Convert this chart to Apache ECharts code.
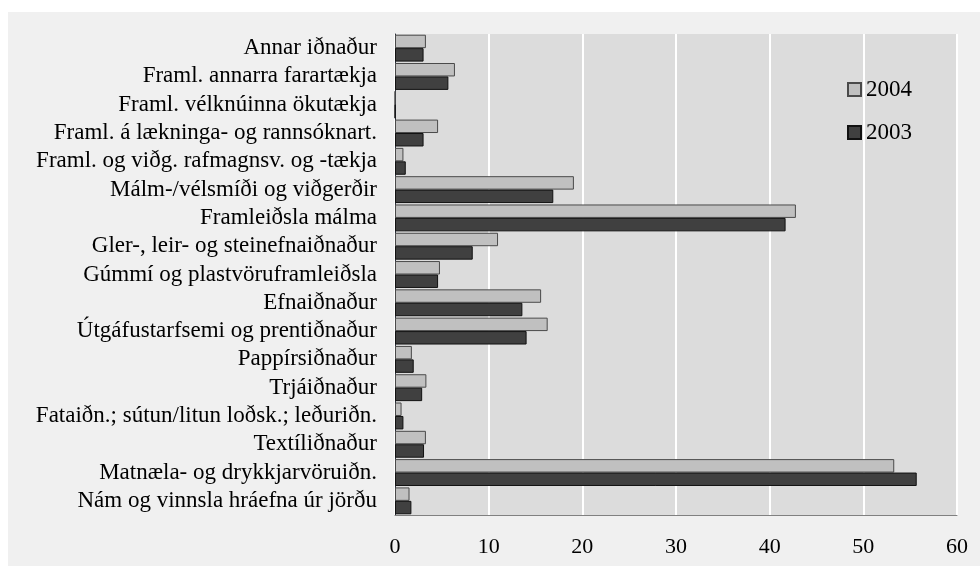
<!DOCTYPE html>
<html>
<head>
<meta charset="utf-8">
<script src="https://cdn.jsdelivr.net/npm/echarts@6/dist/echarts.min.js"></script>
<style>
  html, body { margin: 0; padding: 0; background: #ffffff; }
  #chart { position: absolute; left: 8px; top: 12px; width: 972px; height: 554px; background: #f0f0f0; }
</style>
</head>
<body>
<div id="chart"></div>
<script>
// categories, top to bottom
var categories = [
  "Annar iðnaður",
  "Framl. annarra farartækja",
  "Framl. vélknúinna ökutækja",
  "Framl. á lækninga- og rannsóknart.",
  "Framl. og viðg. rafmagnsv. og -tækja",
  "Málm-/vélsmíði og viðgerðir",
  "Framleiðsla málma",
  "Gler-, leir- og steinefnaiðnaður",
  "Gúmmí og plastvöruframleiðsla",
  "Efnaiðnaður",
  "Útgáfustarfsemi og prentiðnaður",
  "Pappírsiðnaður",
  "Trjáiðnaður",
  "Fataiðn.; sútun/litun loðsk.; leðuriðn.",
  "Textíliðnaður",
  "Matnæla- og drykkjarvöruiðn.",
  "Nám og vinnsla hráefna úr jörðu"
];
var values2004 = [3.3, 6.4, 0, 4.6, 0.9, 19.1, 42.8, 11.0, 4.8, 15.6, 16.3, 1.8, 3.35, 0.7, 3.3, 53.3, 1.55];
var values2003 = [3.05, 5.7, 0, 3.05, 1.15, 16.9, 41.7, 8.3, 4.6, 13.6, 14.05, 2.0, 2.9, 0.9, 3.1, 55.7, 1.75];
var xTicks = [0, 10, 20, 30, 40, 50, 60];

var font = "'Liberation Serif', 'Times New Roman', serif";
var chart = echarts.init(document.getElementById("chart"));

chart.setOption({
  animation: false,
  textStyle: { fontFamily: font },
  grid: {
    left: 387, top: 22, width: 562, height: 481,
    show: true, backgroundColor: "#dcdcdc", borderWidth: 0
  },
  legend: {
    orient: "vertical",
    left: 834, top: 61,
    itemGap: 20,
    itemWidth: 13, itemHeight: 13,
    icon: "rect",
    data: ["2004", "2003"],
    textStyle: { fontFamily: font, fontSize: 23, color: "#000" }
  },
  xAxis: {
    type: "value",
    min: xTicks[0], max: xTicks[xTicks.length - 1], interval: 10,
    axisLine: { show: true, lineStyle: { color: "#808080", width: 1 } },
    axisTick: { show: false },
    splitLine: { show: true, lineStyle: { color: "#ffffff", width: 2 } },
    axisLabel: { fontFamily: font, fontSize: 22, color: "#000", margin: 21 }
  },
  yAxis: {
    type: "category",
    inverse: true,
    data: categories,
    axisLine: { show: true, lineStyle: { color: "#2a2f3a", width: 1 } },
    axisTick: { show: false },
    axisLabel: { interval: 0, fontFamily: font, fontSize: 23, color: "#000", margin: 18 }
  },
  series: [
    {
      name: "2004", type: "bar", data: values2004,
      barGap: "0%", barCategoryGap: "5%",
      itemStyle: { color: "#c0c0c0", borderColor: "#4a4a4a", borderWidth: 1 }
    },
    {
      name: "2003", type: "bar", data: values2003,
      barGap: "0%", barCategoryGap: "5%",
      itemStyle: { color: "#404040", borderColor: "#111111", borderWidth: 1 }
    }
  ]
});
</script>
</body>
</html>
